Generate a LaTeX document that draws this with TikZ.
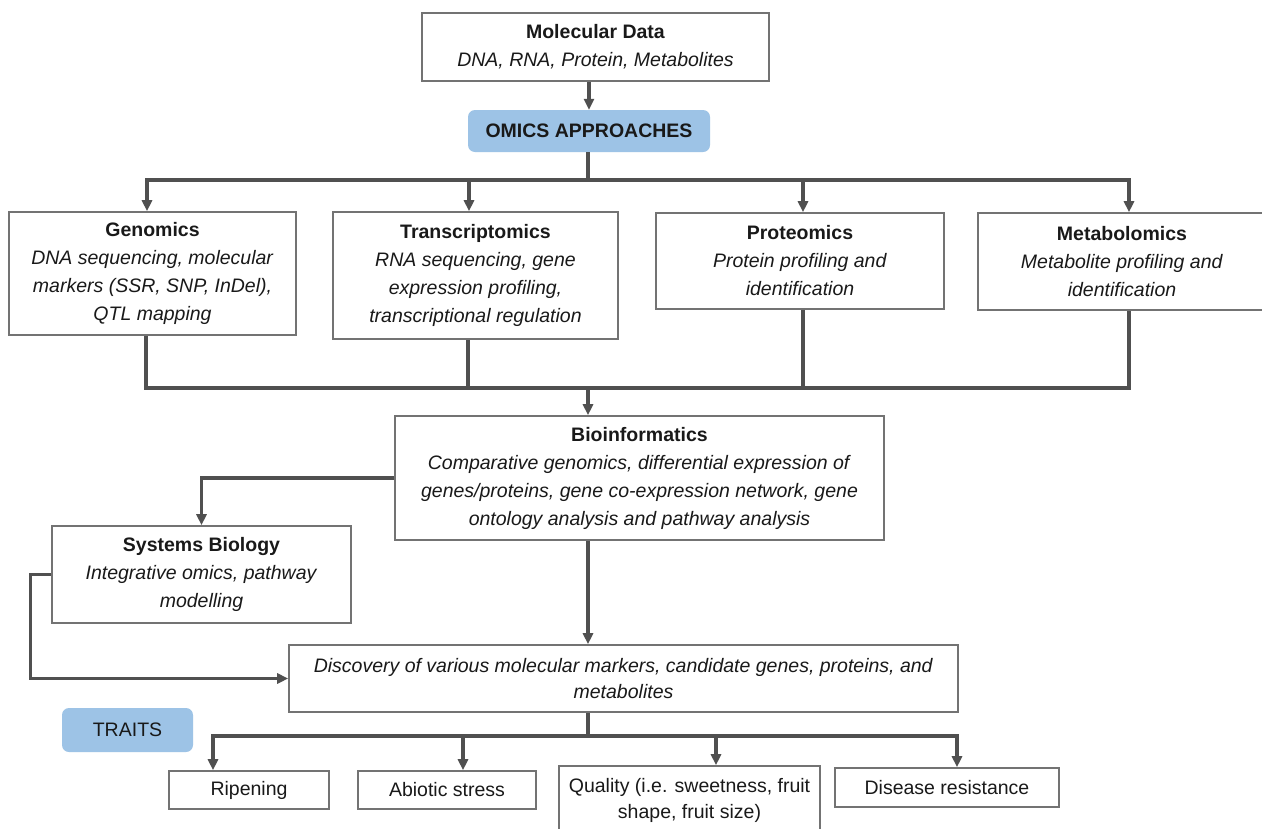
\documentclass[tikz,border=0pt]{standalone}
\usepackage{fontspec}
\setmainfont{Liberation Sans}
\usetikzlibrary{arrows.meta}
\definecolor{linegray}{RGB}{80,80,80}
\definecolor{boxgray}{RGB}{115,115,115}
\definecolor{lblue}{RGB}{157,195,230}
\definecolor{txt}{RGB}{25,25,25}
\tikzset{
  box/.style={draw=boxgray, line width=1.6pt, fill=white, align=center, inner sep=0pt, text=txt,
    font=\fontsize{19.5}{28}\selectfont},
  tbox/.style={box, font=\fontsize{19.5}{26}\selectfont},
  bluebox/.style={fill=lblue, rounded corners=7pt, inner sep=0pt, align=center, text=txt,
    font=\fontsize{19.5}{24}\selectfont},
  conn/.style={draw=linegray, line width=3.2pt},
  arr/.style={conn, -{Triangle[length=11pt,width=10pt]}},
}
\begin{document}
\begin{tikzpicture}[x=1pt,y=-1pt]
\useasboundingbox (0,0) rectangle (1262,828);
\fill[white] (0,0) rectangle (1262,828);

% top
\node[box, minimum width=347pt, minimum height=68pt] (md) at (595.5,47)
  {\textbf{Molecular Data}\\\textit{DNA, RNA, Protein, Metabolites}};
\node[bluebox, minimum width=242pt, minimum height=42pt] (omics) at (589,131)
  {\textbf{OMICS APPROACHES}};

% omics boxes
\node[box, minimum width=287pt, minimum height=123pt] (gen) at (152.5,273.5)
  {\textbf{Genomics}\\\textit{DNA sequencing, molecular}\\\textit{markers (SSR, SNP, InDel),}\\\textit{QTL mapping}};
\node[box, minimum width=285pt, minimum height=127pt] (tra) at (475.5,275.5)
  {\textbf{Transcriptomics}\\\textit{RNA sequencing, gene}\\\textit{expression profiling,}\\\textit{transcriptional regulation}};
\node[box, minimum width=288pt, minimum height=96pt] (pro) at (800,261)
  {\textbf{Proteomics}\\\textit{Protein profiling and}\\\textit{identification}};
\node[box, minimum width=288pt, minimum height=97pt] (met) at (1122,261.5)
  {\textbf{Metabolomics}\\\textit{Metabolite profiling and}\\\textit{identification}};

% bioinformatics
\node[box, minimum width=489pt, minimum height=124pt] (bio) at (639.5,478)
  {\textbf{Bioinformatics}\\\textit{Comparative genomics, differential expression of}\\\textit{genes/proteins, gene co-expression network, gene}\\\textit{ontology analysis and pathway analysis}};
\node[box, minimum width=299pt, minimum height=97pt] (sys) at (201.5,574.5)
  {\textbf{Systems Biology}\\\textit{Integrative omics, pathway}\\\textit{modelling}};
\node[tbox, minimum width=669pt, minimum height=67pt] (disc) at (623.5,678.5)
  {\textit{Discovery of various molecular markers, candidate genes, proteins, and}\\\textit{metabolites}};

% traits
\node[bluebox, minimum width=131pt, minimum height=44pt] (traits) at (127.5,730) {TRAITS};
\node[tbox, minimum width=160pt, minimum height=38pt] (rip) at (249,790) {Ripening};
\node[tbox, minimum width=178pt, minimum height=38pt] (abi) at (447,790) {Abiotic stress};
\node[tbox, minimum width=261pt, minimum height=68pt] (qua) at (689.5,800)
  {Quality (i.e. sweetness, fruit\\shape, fruit size)};
\node[tbox, minimum width=224pt, minimum height=39pt] (dis) at (947,787.5) {Disease resistance};

% connectors
\draw[arr] (omics.north |- md.south) -- (omics.north);
\coordinate (ja) at (588,180);
\draw[conn] (omics.south -| ja) -- (ja);
\draw[arr] (ja) -| ([xshift=-5.5pt]gen.north);
\draw[arr] (ja) -| ([xshift=-6.5pt]tra.north);
\draw[arr] (ja) -| ([xshift=3pt]pro.north);
\draw[arr] (ja) -| ([xshift=7pt]met.north);

\coordinate (jb) at (588,388);
\draw[conn] ([xshift=-6.5pt]gen.south) |- (jb);
\draw[conn] ([xshift=-7.5pt]tra.south) |- (jb);
\draw[conn] ([xshift=3pt]pro.south) |- (jb);
\draw[conn] ([xshift=7pt]met.south) |- (jb);
\draw[arr] (jb) -- (jb |- bio.north);

\draw[arr] (bio.west) -| (sys.north);
\draw[arr] (sys.west) -- ++(-21pt,0) |- (disc.west);
\draw[arr] (bio.south -| jb) -- (disc.north -| jb);

\coordinate (jc) at (588,736);
\draw[conn] (disc.south -| jc) -- (jc);
\draw[arr] (jc) -| ([xshift=-36pt]rip.north);
\draw[arr] (jc) -| ([xshift=16pt]abi.north);
\draw[arr] (jc) -| ([xshift=26.5pt]qua.north);
\draw[arr] (jc) -| ([xshift=10pt]dis.north);
\end{tikzpicture}
\end{document}
